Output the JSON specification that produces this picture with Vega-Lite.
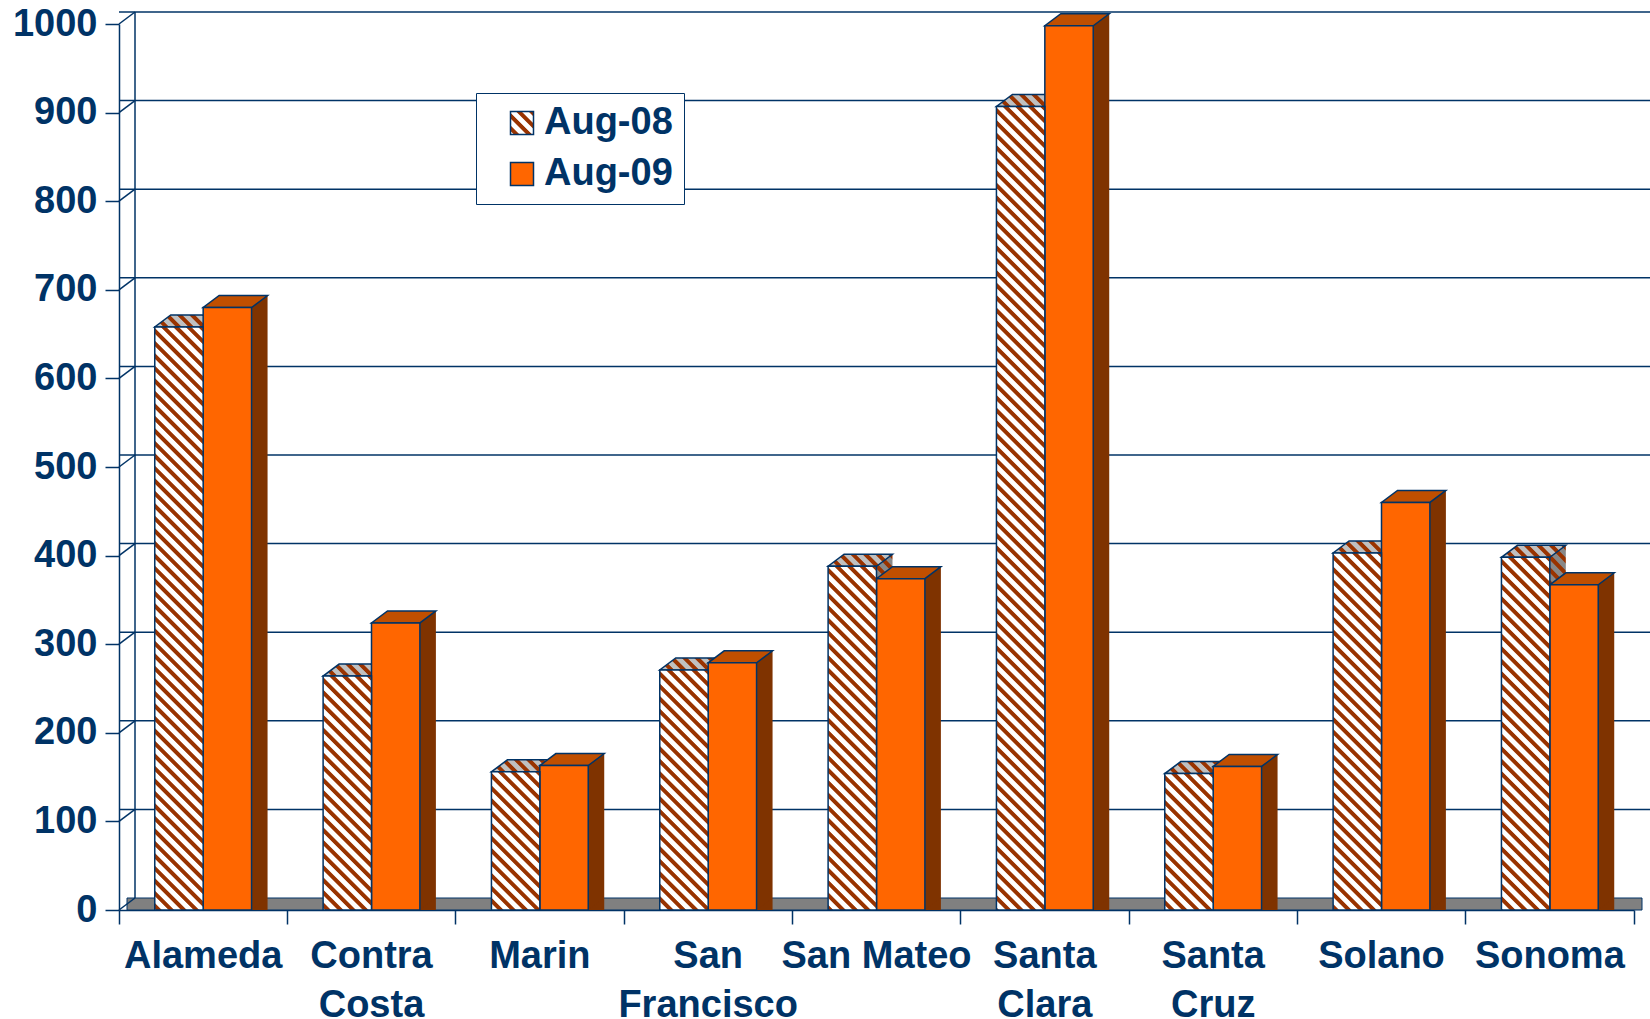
{
  "$schema": "https://vega.github.io/schema/vega-lite/v6.json",
  "width": 1515,
  "height": 886,
  "autosize": {"type": "none"},
  "padding": {"left": 119, "top": 24, "right": 16, "bottom": 109},
  "background": "white",
  "config": {"view": {"stroke": null}, "font": "Liberation Sans"},
  "datasets": {
    "counties": [
      {"county": "Alameda", "series": "Aug-08", "value": 658},
      {"county": "Alameda", "series": "Aug-09", "value": 680},
      {"county": "Contra Costa", "series": "Aug-08", "value": 264},
      {"county": "Contra Costa", "series": "Aug-09", "value": 324},
      {"county": "Marin", "series": "Aug-08", "value": 156},
      {"county": "Marin", "series": "Aug-09", "value": 163},
      {"county": "San Francisco", "series": "Aug-08", "value": 271},
      {"county": "San Francisco", "series": "Aug-09", "value": 279},
      {"county": "San Mateo", "series": "Aug-08", "value": 388},
      {"county": "San Mateo", "series": "Aug-09", "value": 374},
      {"county": "Santa Clara", "series": "Aug-08", "value": 907},
      {"county": "Santa Clara", "series": "Aug-09", "value": 998},
      {"county": "Santa Cruz", "series": "Aug-08", "value": 154},
      {"county": "Santa Cruz", "series": "Aug-09", "value": 162},
      {"county": "Solano", "series": "Aug-08", "value": 403},
      {"county": "Solano", "series": "Aug-09", "value": 460},
      {"county": "Sonoma", "series": "Aug-08", "value": 398},
      {"county": "Sonoma", "series": "Aug-09", "value": 367}
    ],
    "grid": [
      {"g": 0}, {"g": 100}, {"g": 200}, {"g": 300}, {"g": 400}, {"g": 500},
      {"g": 600}, {"g": 700}, {"g": 800}, {"g": 900}, {"g": 1000}
    ]
  },
  "layer": [
    {
      "data": {"name": "grid"},
      "transform": [{"filter": "datum.g > 0"}],
      "mark": {"type": "rule", "color": "#003366", "strokeWidth": 1.5, "xOffset": 16, "x2Offset": 16, "yOffset": -12},
      "encoding": {
        "y": {"field": "g", "type": "quantitative", "title": null, "scale": {"domain": [0, 1000], "nice": false}}
      }
    },
    {
      "data": {"values": [{}]},
      "mark": {"type": "rect", "fill": "#808080", "stroke": "#003366", "strokeWidth": 1, "xOffset": 8, "x2Offset": 8, "yOffset": -12},
      "encoding": {
        "x": {"value": 0},
        "x2": {"value": "width"},
        "y": {"datum": 0, "type": "quantitative", "title": null},
        "y2": {"datum": 0}
      }
    },
    {
      "data": {"values": [{}]},
      "mark": {"type": "rule", "color": "#003366", "strokeWidth": 1.5, "xOffset": 16, "yOffset": -12, "y2Offset": -12},
      "encoding": {
        "x": {"value": 0},
        "y": {"datum": 0, "type": "quantitative", "title": null},
        "y2": {"datum": 1000}
      }
    },
    {
      "data": {"name": "grid"},
      "mark": {"type": "point", "shape": "M0,0L0.4,-0.3", "size": 6400, "filled": false, "stroke": "#003366", "strokeWidth": 1.5, "opacity": 1, "strokeOpacity": 1},
      "encoding": {
        "x": {"value": 0},
        "y": {"field": "g", "type": "quantitative", "title": null}
      }
    },
    {
      "data": {"name": "counties"},
      "transform": [{"filter": "datum.series == 'Aug-08'"}],
      "mark": {
        "type": "bar", "width": {"band": 0.2875}, "xOffset": -8.2, "yOffset": -12, "y2Offset": -12,
        "fill": {"expr": "{gradient:'linear',x1:1,y1:0,x2:1-0.2875*bandwidth('x')*1250/(pow(0.2875*bandwidth('x'),2)+pow(scale('y',0)-scale('y',datum.value),2)),y2:(scale('y',0)-scale('y',datum.value))*1250/(pow(0.2875*bandwidth('x'),2)+pow(scale('y',0)-scale('y',datum.value),2)),stops:[{offset:0.00,color:'#930'},{offset:0.0035,color:'#930'},{offset:0.0045,color:'#888'},{offset:0.009,color:'#888'},{offset:0.01,color:'#930'},{offset:0.0135,color:'#930'},{offset:0.0145,color:'#888'},{offset:0.019,color:'#888'},{offset:0.02,color:'#930'},{offset:0.0235,color:'#930'},{offset:0.0245,color:'#888'},{offset:0.029,color:'#888'},{offset:0.03,color:'#930'},{offset:0.0335,color:'#930'},{offset:0.0345,color:'#888'},{offset:0.039,color:'#888'},{offset:0.04,color:'#930'},{offset:0.0435,color:'#930'},{offset:0.0445,color:'#888'},{offset:0.049,color:'#888'},{offset:0.05,color:'#930'},{offset:0.0535,color:'#930'},{offset:0.0545,color:'#888'},{offset:0.059,color:'#888'},{offset:0.06,color:'#930'},{offset:0.0635,color:'#930'},{offset:0.0645,color:'#888'},{offset:0.069,color:'#888'},{offset:0.07,color:'#930'},{offset:0.0735,color:'#930'},{offset:0.0745,color:'#888'},{offset:0.079,color:'#888'}]}"}
      },
      "encoding": {
        "x": {"field": "county", "type": "nominal", "sort": null, "title": null, "scale": {"domain": ["Alameda", "Contra Costa", "Marin", "San Francisco", "San Mateo", "Santa Clara", "Santa Cruz", "Solano", "Sonoma"], "paddingInner": 0, "paddingOuter": 0}},
        "y": {"field": "value", "type": "quantitative", "stack": null, "title": null}
      }
    },
    {
      "data": {"name": "counties"},
      "transform": [{"filter": "datum.series == 'Aug-09'"}],
      "mark": {"type": "bar", "width": {"band": 0.2875}, "xOffset": 40.2, "yOffset": -12, "y2Offset": -12, "fill": "#7F3300"},
      "encoding": {
        "x": {"field": "county", "type": "nominal", "sort": null, "title": null},
        "y": {"field": "value", "type": "quantitative", "stack": null, "title": null}
      }
    },
    {
      "data": {"name": "counties"},
      "transform": [{"filter": "datum.series == 'Aug-09'"}],
      "mark": {"type": "point", "shape": "M0.605,0L0.605,-0.3L1.005,-0.3Z", "size": 6400, "filled": true, "fill": "#7F3300", "strokeWidth": 0, "opacity": 1, "xOffset": 24.2},
      "encoding": {
        "x": {"field": "county", "type": "nominal", "sort": null, "title": null},
        "y": {"datum": 0, "type": "quantitative", "title": null}
      }
    },
    {
      "data": {"name": "counties"},
      "transform": [{"filter": "datum.series == 'Aug-08'"}],
      "mark": {
        "type": "point", "shape": "M-0.605,0L0.605,0L1.005,-0.3L-0.205,-0.3Z", "size": 6400, "filled": true,
        "fill": {"gradient": "linear", "x1": 1, "y1": 0, "x2": -17.758, "y2": 3.4955, "stops": [
          {"offset": 0, "color": "#993300"}, {"offset": 0.0035, "color": "#993300"}, {"offset": 0.0045, "color": "#C0C0C0"}, {"offset": 0.009, "color": "#C0C0C0"},
          {"offset": 0.01, "color": "#993300"}, {"offset": 0.0135, "color": "#993300"}, {"offset": 0.0145, "color": "#C0C0C0"}, {"offset": 0.019, "color": "#C0C0C0"},
          {"offset": 0.02, "color": "#993300"}, {"offset": 0.0235, "color": "#993300"}, {"offset": 0.0245, "color": "#C0C0C0"}, {"offset": 0.029, "color": "#C0C0C0"},
          {"offset": 0.03, "color": "#993300"}, {"offset": 0.0335, "color": "#993300"}, {"offset": 0.0345, "color": "#C0C0C0"}, {"offset": 0.039, "color": "#C0C0C0"},
          {"offset": 0.04, "color": "#993300"}, {"offset": 0.0435, "color": "#993300"}, {"offset": 0.0445, "color": "#C0C0C0"}, {"offset": 0.049, "color": "#C0C0C0"},
          {"offset": 0.05, "color": "#993300"}, {"offset": 0.0535, "color": "#993300"}, {"offset": 0.0545, "color": "#C0C0C0"}, {"offset": 0.059, "color": "#C0C0C0"},
          {"offset": 0.06, "color": "#993300"}, {"offset": 0.0635, "color": "#993300"}, {"offset": 0.0645, "color": "#C0C0C0"}, {"offset": 0.069, "color": "#C0C0C0"}
        ]},
        "stroke": "#003366", "strokeWidth": 1.5, "opacity": 1, "xOffset": -24.2
      },
      "encoding": {
        "x": {"field": "county", "type": "nominal", "sort": null, "title": null},
        "y": {"field": "value", "type": "quantitative", "title": null}
      }
    },
    {
      "data": {"name": "counties"},
      "transform": [{"filter": "datum.series == 'Aug-09'"}],
      "mark": {"type": "point", "shape": "M-0.605,0L0.605,0L1.005,-0.3L-0.205,-0.3Z", "size": 6400, "filled": true, "fill": "#C04F00", "stroke": "#003366", "strokeWidth": 1.5, "opacity": 1, "xOffset": 24.2},
      "encoding": {
        "x": {"field": "county", "type": "nominal", "sort": null, "title": null},
        "y": {"field": "value", "type": "quantitative", "title": null}
      }
    },
    {
      "data": {"name": "counties"},
      "transform": [{"filter": "datum.series == 'Aug-09'"}],
      "mark": {"type": "bar", "width": {"band": 0.2875}, "xOffset": 24.2, "stroke": "#003366", "strokeWidth": 1.5},
      "encoding": {
        "x": {
          "field": "county", "type": "nominal", "sort": null, "title": null,
          "axis": {
            "title": null, "domainColor": "#003366", "domainWidth": 1.5, "tickColor": "#003366", "tickWidth": 1.5,
            "tickSize": 14, "bandPosition": 1, "tickExtra": true,
            "labelFont": "Liberation Sans", "labelFontWeight": "bold",
            "labelFontSize": 38, "labelColor": "#003366", "labelPadding": 43, "labelLineHeight": 49, "labelAngle": 0,
            "labelLimit": 400, "labelOverlap": false, "labelBaseline": "alphabetic", "labelAlign": "center", "grid": false,
            "labelExpr": "datum.label == 'San Mateo' ? datum.label : split(datum.label, ' ')"
          }
        },
        "y": {
          "field": "value", "type": "quantitative", "stack": null, "title": null,
          "axis": {
            "title": null, "domainColor": "#003366", "domainWidth": 1.5, "tickColor": "#003366", "tickWidth": 1.5,
            "tickSize": 14, "values": [0, 100, 200, 300, 400, 500, 600, 700, 800, 900, 1000], "format": "d",
            "labelFont": "Liberation Sans", "labelFontWeight": "bold", "labelFontSize": 38, "labelColor": "#003366",
            "labelPadding": 8, "grid": false
          }
        },
        "color": {
          "field": "series", "type": "nominal",
          "scale": {
            "domain": ["Aug-08", "Aug-09"],
            "range": [
              {"expr": "{gradient:'linear',x1:1,y1:0,x2:-26.17,y2:27.17,stops:[{offset:0.00,color:'#930'},{offset:0.0035,color:'#930'},{offset:0.0045,color:'#fff'},{offset:0.009,color:'#fff'},{offset:0.01,color:'#930'},{offset:0.0135,color:'#930'},{offset:0.0145,color:'#fff'},{offset:0.019,color:'#fff'},{offset:0.02,color:'#930'},{offset:0.0235,color:'#930'},{offset:0.0245,color:'#fff'},{offset:0.029,color:'#fff'},{offset:0.03,color:'#930'},{offset:0.0335,color:'#930'},{offset:0.0345,color:'#fff'},{offset:0.039,color:'#fff'},{offset:0.04,color:'#930'},{offset:0.0435,color:'#930'},{offset:0.0445,color:'#fff'},{offset:0.049,color:'#fff'}]}"},
              "#FF6600"
            ]
          },
          "legend": {
            "title": null, "orient": "none", "legendX": 357, "legendY": 69, "fillColor": "white", "strokeColor": "#003366",
            "padding": 11, "labelFont": "Liberation Sans", "labelFontWeight": "bold", "labelFontSize": 38, "labelColor": "#003366",
            "symbolType": "square", "symbolSize": 529, "symbolStrokeColor": "#003366", "symbolStrokeWidth": 1.5,
            "rowPadding": 13, "labelOffset": 3, "symbolOffset": 16, "labelLimit": 300
          }
        }
      }
    },
    {
      "data": {"name": "counties"},
      "transform": [{"filter": "datum.series == 'Aug-08'"}],
      "mark": {
        "type": "bar", "width": {"band": 0.2875}, "xOffset": -24.2, "stroke": "#003366", "strokeWidth": 1.5,
        "fill": {"expr": "{gradient:'linear',x1:1,y1:0,x2:1-0.2875*bandwidth('x')*1250/(pow(0.2875*bandwidth('x'),2)+pow(scale('y',0)-scale('y',datum.value),2)),y2:(scale('y',0)-scale('y',datum.value))*1250/(pow(0.2875*bandwidth('x'),2)+pow(scale('y',0)-scale('y',datum.value),2)),stops:[{offset:0.00,color:'#930'},{offset:0.0035,color:'#930'},{offset:0.0045,color:'#fff'},{offset:0.009,color:'#fff'},{offset:0.01,color:'#930'},{offset:0.0135,color:'#930'},{offset:0.0145,color:'#fff'},{offset:0.019,color:'#fff'},{offset:0.02,color:'#930'},{offset:0.0235,color:'#930'},{offset:0.0245,color:'#fff'},{offset:0.029,color:'#fff'},{offset:0.03,color:'#930'},{offset:0.0335,color:'#930'},{offset:0.0345,color:'#fff'},{offset:0.039,color:'#fff'},{offset:0.04,color:'#930'},{offset:0.0435,color:'#930'},{offset:0.0445,color:'#fff'},{offset:0.049,color:'#fff'},{offset:0.05,color:'#930'},{offset:0.0535,color:'#930'},{offset:0.0545,color:'#fff'},{offset:0.059,color:'#fff'},{offset:0.06,color:'#930'},{offset:0.0635,color:'#930'},{offset:0.0645,color:'#fff'},{offset:0.069,color:'#fff'},{offset:0.07,color:'#930'},{offset:0.0735,color:'#930'},{offset:0.0745,color:'#fff'},{offset:0.079,color:'#fff'},{offset:0.08,color:'#930'},{offset:0.0835,color:'#930'},{offset:0.0845,color:'#fff'},{offset:0.089,color:'#fff'},{offset:0.09,color:'#930'},{offset:0.0935,color:'#930'},{offset:0.0945,color:'#fff'},{offset:0.099,color:'#fff'},{offset:0.10,color:'#930'},{offset:0.1035,color:'#930'},{offset:0.1045,color:'#fff'},{offset:0.109,color:'#fff'},{offset:0.11,color:'#930'},{offset:0.1135,color:'#930'},{offset:0.1145,color:'#fff'},{offset:0.119,color:'#fff'},{offset:0.12,color:'#930'},{offset:0.1235,color:'#930'},{offset:0.1245,color:'#fff'},{offset:0.129,color:'#fff'},{offset:0.13,color:'#930'},{offset:0.1335,color:'#930'},{offset:0.1345,color:'#fff'},{offset:0.139,color:'#fff'},{offset:0.14,color:'#930'},{offset:0.1435,color:'#930'},{offset:0.1445,color:'#fff'},{offset:0.149,color:'#fff'},{offset:0.15,color:'#930'},{offset:0.1535,color:'#930'},{offset:0.1545,color:'#fff'},{offset:0.159,color:'#fff'},{offset:0.16,color:'#930'},{offset:0.1635,color:'#930'},{offset:0.1645,color:'#fff'},{offset:0.169,color:'#fff'},{offset:0.17,color:'#930'},{offset:0.1735,color:'#930'},{offset:0.1745,color:'#fff'},{offset:0.179,color:'#fff'},{offset:0.18,color:'#930'},{offset:0.1835,color:'#930'},{offset:0.1845,color:'#fff'},{offset:0.189,color:'#fff'},{offset:0.19,color:'#930'},{offset:0.1935,color:'#930'},{offset:0.1945,color:'#fff'},{offset:0.199,color:'#fff'},{offset:0.20,color:'#930'},{offset:0.2035,color:'#930'},{offset:0.2045,color:'#fff'},{offset:0.209,color:'#fff'},{offset:0.21,color:'#930'},{offset:0.2135,color:'#930'},{offset:0.2145,color:'#fff'},{offset:0.219,color:'#fff'},{offset:0.22,color:'#930'},{offset:0.2235,color:'#930'},{offset:0.2245,color:'#fff'},{offset:0.229,color:'#fff'},{offset:0.23,color:'#930'},{offset:0.2335,color:'#930'},{offset:0.2345,color:'#fff'},{offset:0.239,color:'#fff'},{offset:0.24,color:'#930'},{offset:0.2435,color:'#930'},{offset:0.2445,color:'#fff'},{offset:0.249,color:'#fff'},{offset:0.25,color:'#930'},{offset:0.2535,color:'#930'},{offset:0.2545,color:'#fff'},{offset:0.259,color:'#fff'},{offset:0.26,color:'#930'},{offset:0.2635,color:'#930'},{offset:0.2645,color:'#fff'},{offset:0.269,color:'#fff'},{offset:0.27,color:'#930'},{offset:0.2735,color:'#930'},{offset:0.2745,color:'#fff'},{offset:0.279,color:'#fff'},{offset:0.28,color:'#930'},{offset:0.2835,color:'#930'},{offset:0.2845,color:'#fff'},{offset:0.289,color:'#fff'},{offset:0.29,color:'#930'},{offset:0.2935,color:'#930'},{offset:0.2945,color:'#fff'},{offset:0.299,color:'#fff'},{offset:0.30,color:'#930'},{offset:0.3035,color:'#930'},{offset:0.3045,color:'#fff'},{offset:0.309,color:'#fff'},{offset:0.31,color:'#930'},{offset:0.3135,color:'#930'},{offset:0.3145,color:'#fff'},{offset:0.319,color:'#fff'},{offset:0.32,color:'#930'},{offset:0.3235,color:'#930'},{offset:0.3245,color:'#fff'},{offset:0.329,color:'#fff'},{offset:0.33,color:'#930'},{offset:0.3335,color:'#930'},{offset:0.3345,color:'#fff'},{offset:0.339,color:'#fff'},{offset:0.34,color:'#930'},{offset:0.3435,color:'#930'},{offset:0.3445,color:'#fff'},{offset:0.349,color:'#fff'},{offset:0.35,color:'#930'},{offset:0.3535,color:'#930'},{offset:0.3545,color:'#fff'},{offset:0.359,color:'#fff'},{offset:0.36,color:'#930'},{offset:0.3635,color:'#930'},{offset:0.3645,color:'#fff'},{offset:0.369,color:'#fff'},{offset:0.37,color:'#930'},{offset:0.3735,color:'#930'},{offset:0.3745,color:'#fff'},{offset:0.379,color:'#fff'},{offset:0.38,color:'#930'},{offset:0.3835,color:'#930'},{offset:0.3845,color:'#fff'},{offset:0.389,color:'#fff'},{offset:0.39,color:'#930'},{offset:0.3935,color:'#930'},{offset:0.3945,color:'#fff'},{offset:0.399,color:'#fff'},{offset:0.40,color:'#930'},{offset:0.4035,color:'#930'},{offset:0.4045,color:'#fff'},{offset:0.409,color:'#fff'},{offset:0.41,color:'#930'},{offset:0.4135,color:'#930'},{offset:0.4145,color:'#fff'},{offset:0.419,color:'#fff'},{offset:0.42,color:'#930'},{offset:0.4235,color:'#930'},{offset:0.4245,color:'#fff'},{offset:0.429,color:'#fff'},{offset:0.43,color:'#930'},{offset:0.4335,color:'#930'},{offset:0.4345,color:'#fff'},{offset:0.439,color:'#fff'},{offset:0.44,color:'#930'},{offset:0.4435,color:'#930'},{offset:0.4445,color:'#fff'},{offset:0.449,color:'#fff'},{offset:0.45,color:'#930'},{offset:0.4535,color:'#930'},{offset:0.4545,color:'#fff'},{offset:0.459,color:'#fff'},{offset:0.46,color:'#930'},{offset:0.4635,color:'#930'},{offset:0.4645,color:'#fff'},{offset:0.469,color:'#fff'},{offset:0.47,color:'#930'},{offset:0.4735,color:'#930'},{offset:0.4745,color:'#fff'},{offset:0.479,color:'#fff'},{offset:0.48,color:'#930'},{offset:0.4835,color:'#930'},{offset:0.4845,color:'#fff'},{offset:0.489,color:'#fff'},{offset:0.49,color:'#930'},{offset:0.4935,color:'#930'},{offset:0.4945,color:'#fff'},{offset:0.499,color:'#fff'},{offset:0.50,color:'#930'},{offset:0.5035,color:'#930'},{offset:0.5045,color:'#fff'},{offset:0.509,color:'#fff'},{offset:0.51,color:'#930'},{offset:0.5135,color:'#930'},{offset:0.5145,color:'#fff'},{offset:0.519,color:'#fff'},{offset:0.52,color:'#930'},{offset:0.5235,color:'#930'},{offset:0.5245,color:'#fff'},{offset:0.529,color:'#fff'},{offset:0.53,color:'#930'},{offset:0.5335,color:'#930'},{offset:0.5345,color:'#fff'},{offset:0.539,color:'#fff'},{offset:0.54,color:'#930'},{offset:0.5435,color:'#930'},{offset:0.5445,color:'#fff'},{offset:0.549,color:'#fff'},{offset:0.55,color:'#930'},{offset:0.5535,color:'#930'},{offset:0.5545,color:'#fff'},{offset:0.559,color:'#fff'},{offset:0.56,color:'#930'},{offset:0.5635,color:'#930'},{offset:0.5645,color:'#fff'},{offset:0.569,color:'#fff'},{offset:0.57,color:'#930'},{offset:0.5735,color:'#930'},{offset:0.5745,color:'#fff'},{offset:0.579,color:'#fff'},{offset:0.58,color:'#930'},{offset:0.5835,color:'#930'},{offset:0.5845,color:'#fff'},{offset:0.589,color:'#fff'},{offset:0.59,color:'#930'},{offset:0.5935,color:'#930'},{offset:0.5945,color:'#fff'},{offset:0.599,color:'#fff'},{offset:0.60,color:'#930'},{offset:0.6035,color:'#930'},{offset:0.6045,color:'#fff'},{offset:0.609,color:'#fff'},{offset:0.61,color:'#930'},{offset:0.6135,color:'#930'},{offset:0.6145,color:'#fff'},{offset:0.619,color:'#fff'},{offset:0.62,color:'#930'},{offset:0.6235,color:'#930'},{offset:0.6245,color:'#fff'},{offset:0.629,color:'#fff'},{offset:0.63,color:'#930'},{offset:0.6335,color:'#930'},{offset:0.6345,color:'#fff'},{offset:0.639,color:'#fff'},{offset:0.64,color:'#930'},{offset:0.6435,color:'#930'},{offset:0.6445,color:'#fff'},{offset:0.649,color:'#fff'},{offset:0.65,color:'#930'},{offset:0.6535,color:'#930'},{offset:0.6545,color:'#fff'},{offset:0.659,color:'#fff'},{offset:0.66,color:'#930'},{offset:0.6635,color:'#930'},{offset:0.6645,color:'#fff'},{offset:0.669,color:'#fff'},{offset:0.67,color:'#930'},{offset:0.6735,color:'#930'},{offset:0.6745,color:'#fff'},{offset:0.679,color:'#fff'},{offset:0.68,color:'#930'},{offset:0.6835,color:'#930'},{offset:0.6845,color:'#fff'},{offset:0.689,color:'#fff'},{offset:0.69,color:'#930'},{offset:0.6935,color:'#930'},{offset:0.6945,color:'#fff'},{offset:0.699,color:'#fff'}]}"}
      },
      "encoding": {
        "x": {"field": "county", "type": "nominal", "sort": null, "title": null},
        "y": {"field": "value", "type": "quantitative", "stack": null, "title": null}
      }
    }
  ]
}
